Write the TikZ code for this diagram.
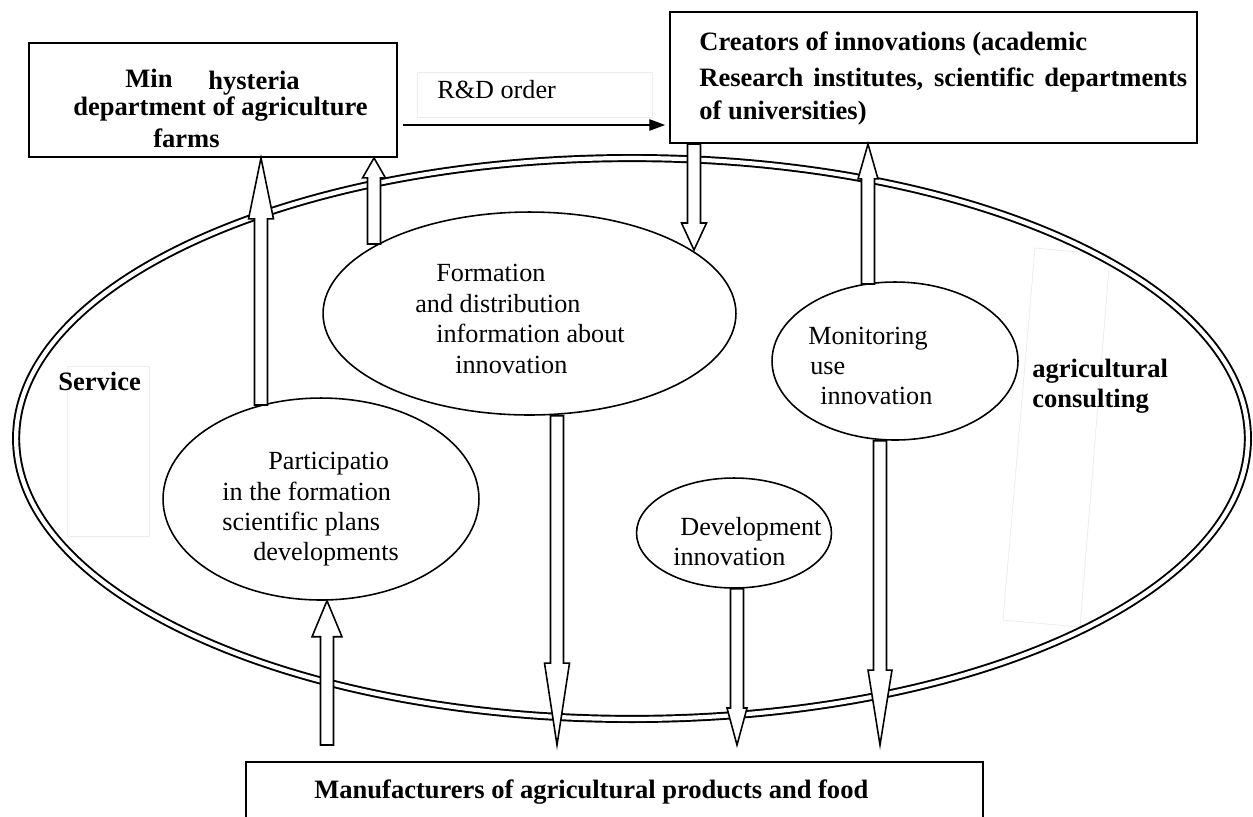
\documentclass[tikz,border=0pt]{standalone}
\usepackage{fontspec}
\setmainfont{Liberation Serif}
\usetikzlibrary{shapes.geometric,arrows.meta,calc}
% block arrow: #1 start, #2 tip, #3 signed head length (px, + for downward), #4 head half width (px)
\newcommand\blkarrow[4]{%
  \draw[blkst] let \p1=(#1), \p2=(#2) in
    ({\x1-3.7pt},{\y1}) -- ({\x1-3.7pt},{\y2+(#3)*0.569pt}) -- ({\x1-(#4)*0.569pt},{\y2+(#3)*0.569pt})
    -- ({\x1},{\y2}) -- ({\x1+(#4)*0.569pt},{\y2+(#3)*0.569pt}) -- ({\x1+3.7pt},{\y2+(#3)*0.569pt})
    -- ({\x1+3.7pt},{\y1}) -- cycle;}
\begin{document}
\begin{tikzpicture}[x=0.02cm,y=-0.02cm,
  box/.style={draw, line width=1.1pt, rectangle, inner sep=0pt},
  oval/.style={draw, ellipse, line width=0.9pt, inner sep=0pt},
  bt/.style={font=\fontsize{15.1}{18}\selectfont\bfseries, anchor=base west, inner sep=0pt},
  rt/.style={font=\fontsize{14.9}{18}\selectfont, anchor=base west, inner sep=0pt},
  faint/.style={draw=black!7, line width=0.5pt},
  blkst/.style={draw, fill=white, line width=0.9pt, line join=miter},
]
\useasboundingbox (0,0) rectangle (1253,816);

% faint frames
\draw[faint] (417,72) rectangle (652,117);
\draw[faint] (67,366) rectangle (149,536);
\draw[faint] (1035,248) -- (1110,255) -- (1080,627) -- (1003,620) -- cycle;

% big double ellipse
\node[draw, ellipse, line width=1.1pt, double=white, double distance=2.4pt,
      minimum width=24.64cm, minimum height=11.22cm, inner sep=0pt] (svc) at (632,438.5) {};

% inner ellipses
\node[oval, minimum width=8.26cm, minimum height=4.06cm] (form) at (529.5,313.5) {};
\node[oval, minimum width=6.32cm, minimum height=4.04cm] (part) at (321,499) {};
\node[oval, minimum width=4.92cm, minimum height=3.16cm] (mon) at (895,361) {};
\node[oval, minimum width=3.9cm, minimum height=2.2cm] (dev) at (734,533) {};

% boxes
\node[box, minimum width=7.36cm, minimum height=2.28cm] (tl) at (213,100) {};
\node[box, minimum width=10.54cm, minimum height=2.62cm] (tr) at (933.5,77.5) {};
\node[box, minimum width=14.74cm, minimum height=1.56cm] (mf) at (614.5,801) {};

% block arrows
\coordinate (a1) at (261,405);
\blkarrow{a1}{a1 |- tl.south}{-61}{12.5}
\coordinate (a2) at (374,244);
\blkarrow{a2}{a2 |- tl.south}{-20}{11.5}
\coordinate (a3) at (694,250);
\blkarrow{a3 |- tr.south}{a3}{27}{12.5}
\coordinate (a4) at (868,284);
\blkarrow{a4}{a4 |- tr.south}{-35}{10}
\coordinate (a5) at (557,745);
\blkarrow{a5 |- form.south}{a5}{82}{12.5}
\coordinate (a6) at (327,745);
\blkarrow{a6}{a6 |- part.south}{-36}{15}
\coordinate (a7) at (737,745);
\blkarrow{a7 |- dev.south}{a7}{37}{10}
\coordinate (a8) at (880,745);
\blkarrow{a8 |- mon.south}{a8}{75}{12}

% R&D arrow
\draw[line width=0.8pt, -{Triangle[length=9pt,width=6.5pt]}] ($(tl.east)+(5,25)$) coordinate (rd) -- ($(rd -| tr.west)+(-4,0)$);
\node[rt] (rdl) at (437,98) {R\&D order};

% texts
\node[bt] (t1) at (125,87) {Min};
\node[bt] (t2) at (208,89) {hysteria};
\node[bt] (t3) at (73,115) {department of agriculture};
\node[bt] (t4) at (153,147) {farms};

\node[bt] (c1) at (699,50) {Creators of innovations (academic};
\node[bt] (c2) at (699,86) {\makebox[9.76cm][s]{Research institutes, scientific departments}};
\node[bt] (c3) at (699,119) {of universities)};

\node[rt] (f1) at (436,281) {Formation};
\node[rt] (f2) at (415,312) {and distribution};
\node[rt] (f3) at (436,342) {information about};
\node[rt] (f4) at (455,373) {innovation};

\node[rt] (p1) at (268,469) {Participatio};
\node[rt] (p2) at (222,500) {in the formation};
\node[rt] (p3) at (222,530) {scientific plans};
\node[rt] (p4) at (253,560) {developments};

\node[rt] (m1) at (808,344) {Monitoring};
\node[rt] (m2) at (810,374) {use};
\node[rt] (m3) at (820,404) {innovation};

\node[rt] (d1) at (680,535) {Development};
\node[rt] (d2) at (673,565) {innovation};

\node[bt] (s1) at (58,390) {Service};
\node[bt] (g1) at (1032,377) {agricultural};
\node[bt] (g2) at (1032,407) {consulting};

\node[bt] (mt) at (314,798) {Manufacturers of agricultural products and food};
\end{tikzpicture}
\end{document}
